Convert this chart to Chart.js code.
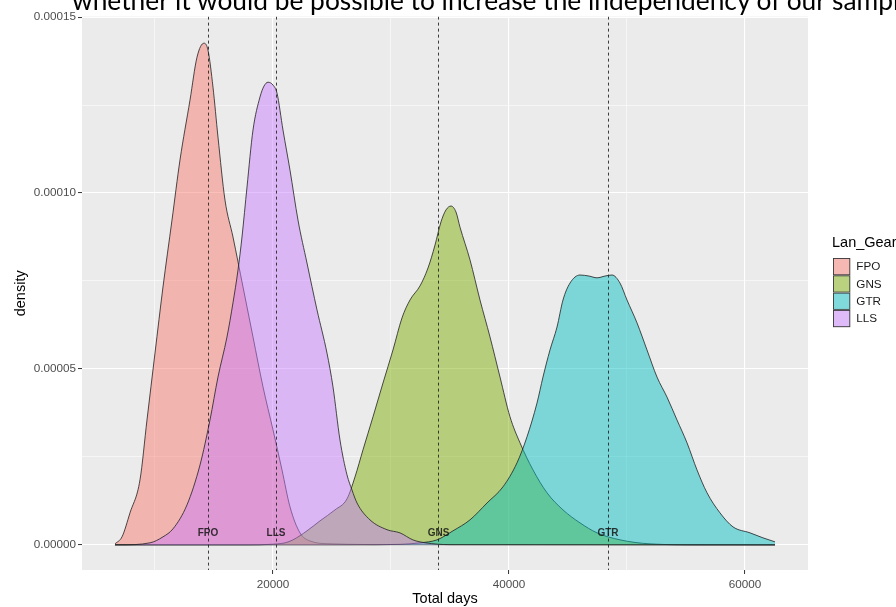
<!DOCTYPE html>
<html><head><meta charset="utf-8">
<script src="https://cdn.jsdelivr.net/npm/chart.js@4.4.1/dist/chart.umd.min.js"></script>
<style>
html,body{margin:0;padding:0;background:#fff;}
#wrap{position:relative;width:896px;height:607px;overflow:hidden;background:#fff;}
#c{position:absolute;left:0;top:0;}
#cap{position:absolute;left:72px;top:0;white-space:nowrap;font-family:Lato,'Open Sans',sans-serif;color:#000;}
</style></head><body>
<div id="wrap"><canvas id="c" width="896" height="607"></canvas><div id="cap">whether it would be possible to increase the independency of our samples</div></div>
<script>
// ---- data ----
const groups = ['FPO', 'GNS', 'GTR', 'LLS'];
const groupColors = ['#F8766D', '#7CAE00', '#00BFC4', '#C77CFF'];

const fpoX = [6610, 7203, 7881, 8729, 9322, 10000, 10678, 11441, 12119, 12966, 13559, 14153, 14492, 14915, 15339, 15932, 16610, 17458, 18305, 19153, 20000, 20763, 21441, 22288, 23136, 24831, 30763, 62542];
const fpoY = [2.8e-7, 2.27e-6, 9.09e-6, 1.847e-5, 3.55e-5, 5.45e-5, 7.33e-5, 9.23e-5, 1.094e-4, 1.264e-4, 1.386e-4, 1.426e-4, 1.406e-4, 1.301e-4, 1.159e-4, 9.80e-5, 8.75e-5, 7.33e-5, 5.91e-5, 4.49e-5, 3.27e-5, 2.13e-5, 1.08e-5, 3.4e-6, 1.1e-6, 3e-7, 5e-8, 0];

const gnsX = [6610, 18051, 19746, 21017, 21695, 22881, 23983, 25254, 26271, 26949, 27627, 28475, 29322, 30169, 30932, 31610, 32458, 33136, 33729, 34237, 34661, 35085, 35508, 35847, 36695, 37542, 38390, 39237, 40085, 40932, 42034, 43220, 44576, 46017, 47458, 49407, 51949, 56186, 62542];
const gnsY = [0, 0, 1.4e-7, 5.7e-7, 1.42e-6, 3.98e-6, 6.82e-6, 9.94e-6, 1.307e-5, 1.93e-5, 2.70e-5, 3.64e-5, 4.60e-5, 5.54e-5, 6.45e-5, 6.96e-5, 7.36e-5, 7.87e-5, 8.52e-5, 9.18e-5, 9.52e-5, 9.63e-5, 9.46e-5, 9.03e-5, 8.10e-5, 6.96e-5, 5.91e-5, 4.77e-5, 3.64e-5, 2.90e-5, 2.13e-5, 1.48e-5, 9.94e-6, 6.25e-6, 3.41e-6, 1.42e-6, 2.8e-7, 0, 0];

const gtrX = [6610, 26525, 30763, 32458, 33898, 35254, 36695, 38136, 39492, 40678, 41525, 42373, 42881, 43475, 44068, 44576, 45169, 46017, 46780, 47458, 48136, 48729, 49407, 50000, 50847, 51695, 52542, 53390, 54237, 55085, 55932, 56780, 57881, 58983, 60424, 61525, 62542];
const gtrY = [0, 0, 1.4e-7, 5.7e-7, 1.42e-6, 3.98e-6, 7.10e-6, 1.19e-5, 1.65e-5, 2.33e-5, 3.07e-5, 4.03e-5, 4.77e-5, 5.54e-5, 6.19e-5, 6.96e-5, 7.44e-5, 7.67e-5, 7.64e-5, 7.59e-5, 7.64e-5, 7.67e-5, 7.44e-5, 6.96e-5, 6.31e-5, 5.54e-5, 4.77e-5, 4.20e-5, 3.55e-5, 2.90e-5, 2.13e-5, 1.48e-5, 9.09e-6, 5.11e-6, 3.41e-6, 1.99e-6, 8.5e-7];

const llsX = [6610, 7034, 9576, 10678, 11525, 12712, 13814, 14661, 15339, 16102, 16610, 17034, 17373, 17797, 18305, 18898, 19237, 19576, 20000, 20339, 20847, 21441, 22119, 22881, 23729, 24576, 25085, 25678, 26271, 26695, 27119, 28220, 29661, 30763, 31864, 32881, 35000, 62542];
const llsY = [0, 0, 5.7e-7, 2.27e-6, 4.55e-6, 1.136e-5, 2.27e-5, 3.55e-5, 4.77e-5, 5.91e-5, 6.88e-5, 7.81e-5, 8.75e-5, 1.017e-4, 1.179e-4, 1.273e-4, 1.304e-4, 1.315e-4, 1.307e-4, 1.284e-4, 1.179e-4, 1.065e-4, 9.23e-5, 8.01e-5, 6.68e-5, 5.45e-5, 4.49e-5, 2.98e-5, 1.99e-5, 1.56e-5, 1.19e-5, 7.1e-6, 4.3e-6, 3.4e-6, 1.4e-6, 6e-7, 5e-8, 0];

// group means (vertical dashed lines), same order as groups
const meanDays = [14492, 34025, 48390, 20254];
const meanLabelY = 3.4e-6;

const xMajorTicks = [20000, 40000, 60000];
const xMinorTicks = [10000, 30000, 50000];
const yMajorTicks = [0, 0.00005, 0.0001, 0.00015];
const yMinorTicks = [0.000025, 0.000075, 0.000125];

const xLimits = [3814, 65339];
const yLimits = [-7.15e-6, 1.5015e-4];

const xTitle = 'Total days';
const yTitle = 'density';
const legendTitle = 'Lan_Gear';

// ---- caption (cropped text above the chart) ----
(function(){
  const cap = document.getElementById('cap');
  const fit = 'whether it would be possible to increase the independency of our samp';
  const mc = document.createElement('canvas').getContext('2d');
  const fam = "Lato, 'Open Sans', sans-serif";
  mc.font = '100px ' + fam;
  const S = 100 * 824 / mc.measureText(fit).width;
  mc.font = S + 'px ' + fam;
  const m = mc.measureText('x');
  const A = m.fontBoundingBoxAscent, D = m.fontBoundingBoxDescent;
  cap.style.fontSize = S + 'px';
  cap.style.lineHeight = S + 'px';
  cap.style.top = (10 - ((S - (A + D)) / 2 + A)) + 'px';
})();

function hexA(hex, a) {
  const n = parseInt(hex.slice(1), 16);
  return `rgba(${(n >> 16) & 255},${(n >> 8) & 255},${n & 255},${a})`;
}
const FILL_A = 0.47;
const seriesX = [fpoX, gnsX, gtrX, llsX];
const seriesY = [fpoY, gnsY, gtrY, llsY];
const isXMajor = v => xMajorTicks.includes(v);
const isYMajor = v => yMajorTicks.some(t => Math.abs(t - v) < 1e-9);
const FONT = "'Liberation Sans', Arial, sans-serif";

const datasets = groups.map((g, i) => ({
  label: g,
  data: seriesX[i].map((x, j) => ({ x: x, y: seriesY[i][j] })),
  backgroundColor: hexA(groupColors[i], FILL_A),
  borderColor: 'rgba(35,35,35,0.9)',
  borderWidth: 0.9,
  fill: 'origin',
  pointRadius: 0,
  cubicInterpolationMode: 'monotone',
  order: groups.length - i
}));

const panelBg = {
  id: 'panelBg',
  beforeDraw(chart) {
    const { ctx, chartArea: a } = chart;
    ctx.save();
    ctx.fillStyle = '#EBEBEB';
    ctx.fillRect(a.left, a.top, a.right - a.left, a.bottom - a.top);
    ctx.restore();
  }
};

const meanLines = {
  id: 'meanLines',
  afterDatasetsDraw(chart) {
    const { ctx, chartArea: a, scales } = chart;
    ctx.save();
    ctx.beginPath();
    ctx.rect(a.left, a.top, a.right - a.left, a.bottom - a.top);
    ctx.clip();
    ctx.setLineDash([3, 3]);
    ctx.strokeStyle = 'rgba(30,30,30,0.85)';
    ctx.lineWidth = 1;
    groups.forEach((g, i) => {
      const px = Math.round(scales.x.getPixelForValue(meanDays[i])) + 0.5;
      ctx.beginPath();
      ctx.moveTo(px, a.top);
      ctx.lineTo(px, a.bottom);
      ctx.stroke();
    });
    ctx.setLineDash([]);
    ctx.font = 'bold 10px ' + FONT;
    ctx.textAlign = 'center';
    ctx.textBaseline = 'middle';
    ctx.fillStyle = 'rgba(20,20,20,0.85)';
    groups.forEach((g, i) => {
      ctx.fillText(g, scales.x.getPixelForValue(meanDays[i]), scales.y.getPixelForValue(meanLabelY));
    });
    ctx.restore();
  }
};

const decor = {
  id: 'decor',
  afterDraw(chart) {
    const { ctx, chartArea: a } = chart;
    ctx.save();
    // axis titles
    ctx.fillStyle = '#000';
    ctx.font = '14.5px ' + FONT;
    ctx.textAlign = 'center';
    ctx.textBaseline = 'middle';
    ctx.fillText(xTitle, (a.left + a.right) / 2, 599);
    ctx.save();
    ctx.translate(21, (a.top + a.bottom) / 2);
    ctx.rotate(-Math.PI / 2);
    ctx.fillText(yTitle, 0, 0);
    ctx.restore();
    // legend
    const kx = 833, ky = 258, ks = 17.3;
    ctx.textAlign = 'left';
    ctx.fillText(legendTitle, 832, 243);
    ctx.font = '11.7px ' + FONT;
    groups.forEach((g, i) => {
      const y0 = ky + i * ks;
      ctx.fillStyle = '#F2F2F2';
      ctx.fillRect(kx, y0, ks, ks);
      ctx.fillStyle = hexA(groupColors[i], FILL_A);
      ctx.fillRect(kx + 0.5, y0 + 0.5, ks - 1, ks - 1);
      ctx.strokeStyle = 'rgba(35,35,35,0.9)';
      ctx.lineWidth = 0.9;
      ctx.strokeRect(kx + 0.5, y0 + 0.5, ks - 1, ks - 1);
      ctx.fillStyle = '#1a1a1a';
      ctx.fillText(g, kx + ks + 6, y0 + ks / 2 + 0.5);
    });
    ctx.restore();
  }
};

new Chart(document.getElementById('c'), {
  type: 'line',
  data: { datasets },
  plugins: [panelBg, meanLines, decor],
  options: {
    responsive: false,
    animation: false,
    devicePixelRatio: 1,
    layout: { padding: { left: 0, top: 16.6, right: 88, bottom: 0 } },
    plugins: { legend: { display: false }, tooltip: { enabled: false } },
    scales: {
      x: {
        type: 'linear',
        min: xLimits[0], max: xLimits[1],
        afterBuildTicks: s => { s.ticks = xMinorTicks.concat(xMajorTicks).sort((a, b) => a - b).map(v => ({ value: v })); },
        afterFit: s => { s.height = 37; },
        border: { display: false },
        grid: {
          color: '#FFFFFF',
          lineWidth: c => isXMajor(c.tick.value) ? 1.1 : 0.55,
          drawTicks: true,
          tickLength: 4,
          tickWidth: 1,
          tickColor: c => isXMajor(c.tick.value) ? '#333333' : 'rgba(0,0,0,0)'
        },
        ticks: {
          autoSkip: false, maxRotation: 0, padding: 4,
          color: '#4D4D4D',
          font: { family: FONT, size: 11.7 },
          callback: v => isXMajor(v) ? String(v) : ''
        }
      },
      y: {
        type: 'linear',
        min: yLimits[0], max: yLimits[1],
        afterBuildTicks: s => { s.ticks = yMinorTicks.concat(yMajorTicks).sort((a, b) => a - b).map(v => ({ value: v })); },
        afterFit: s => { s.width = 82; },
        border: { display: false },
        grid: {
          color: '#FFFFFF',
          lineWidth: c => isYMajor(c.tick.value) ? 1.1 : 0.55,
          drawTicks: true,
          tickLength: 4,
          tickWidth: 1,
          tickColor: c => isYMajor(c.tick.value) ? '#333333' : 'rgba(0,0,0,0)'
        },
        ticks: {
          autoSkip: false, padding: 2,
          color: '#4D4D4D',
          font: { family: FONT, size: 11.7 },
          callback: v => isYMajor(v) ? v.toFixed(5) : ''
        }
      }
    }
  }
});
</script>
</body></html>
